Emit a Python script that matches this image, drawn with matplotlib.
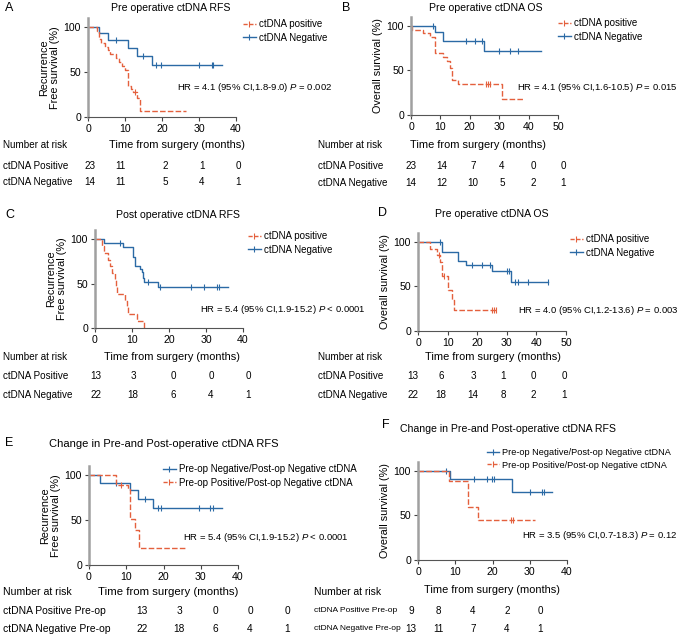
import numpy as np
import matplotlib
matplotlib.use("Agg")
from matplotlib import pyplot as plt
from matplotlib.lines import Line2D

plt.rcParams['font.family'] = ['Liberation Sans', 'DejaVu Sans']
plt.rcParams['mathtext.fontset'] = 'custom'
plt.rcParams['mathtext.rm'] = 'Liberation Sans'
plt.rcParams['mathtext.it'] = 'Liberation Sans:italic'

W, H = 678, 636
BLUE = "#2b6aa5"
RED = "#e4603d"

# ---- Kaplan-Meier curves: event times, survival after event (%), end of follow-up, censor times
# A: Pre operative ctDNA RFS
a_pos_t = [0, 2.3, 3, 3.5, 4.5, 5.5, 6, 7.5, 8.3, 9.2, 10, 10.8, 11.5, 12.2, 13.3, 14.1]
a_pos_s = [100, 95.7, 87, 82.6, 78.3, 73.9, 69.6, 65.2, 60.9, 56.5, 52.2, 35, 31, 27.5, 21, 6.5]
a_pos_end = 26.4
a_pos_cens = [12.8]
a_neg_t = [0, 3, 5.5, 10.8, 13.3, 17.2]
a_neg_s = [100, 92.9, 85.7, 76.5, 68.3, 57.8]
a_neg_end = 36.1
a_neg_cens = [7.5, 14.9, 18.5, 19.6, 30, 33.4, 33.7]

# B: Pre operative ctDNA OS
b_pos_t = [0, 0.5, 4, 6.5, 8, 11, 12.3, 13.2, 13.8, 16, 31]
b_pos_s = [100, 95.7, 91.3, 87, 69.6, 65.2, 60.9, 52.2, 39.1, 34.8, 17.4]
b_pos_end = 38
b_pos_cens = [25.5, 26.2, 26.8]
b_neg_t = [0, 8.1, 11, 24.8]
b_neg_s = [100, 92.9, 83, 71.6]
b_neg_end = 44.3
b_neg_cens = [7.5, 18.7, 21.7, 24.3, 30, 33.6, 36.4]

# C: Post operative ctDNA RFS
c_pos_t = [0, 1.8, 2.3, 3.5, 4, 4.6, 5.4, 5.8, 6, 8.2, 8.6, 9, 11.3, 13.2]
c_pos_s = [100, 92.3, 84.6, 76.9, 69.2, 61.5, 53.8, 46.2, 38.5, 30.8, 23.1, 15.4, 7.7, 0]
c_pos_end = 13.2
c_pos_cens = []
c_neg_t = [0, 2.3, 7.7, 10.4, 10.8, 12.2, 12.6, 13, 13.2, 17]
c_neg_s = [100, 95.5, 91, 80, 69.8, 66, 63.4, 56, 51.5, 46]
c_neg_end = 35.9
c_neg_cens = [6.8, 14.4, 17.5, 26, 29.5, 32.9, 33.6]

# D: Pre operative ctDNA OS
d_pos_t = [0, 3.9, 6.4, 7.4, 8.2, 10.3, 11.4, 12]
d_pos_s = [100, 92.3, 84.6, 76.9, 61.5, 46.2, 34.6, 23.1]
d_pos_end = 26.7
d_pos_cens = [7.1, 8.8, 25, 25.8, 26.5]
d_neg_t = [0, 8.1, 13.4, 16.1, 24.9, 31.3]
d_neg_s = [100, 88.8, 78.7, 73.9, 67.2, 54.5]
d_neg_end = 44
d_neg_cens = [7.5, 18.2, 21.6, 24.4, 30, 30.9, 32.8, 33.9, 37.3, 44]

# E: Change in Pre- and Post-operative ctDNA RFS
e_pos_t = [0, 7.3, 10.5, 11, 12.4, 13.3]
e_pos_s = [100, 88.9, 85, 51, 38.5, 19.2]
e_pos_end = 26.4
e_pos_cens = [8.5]
e_neg_t = [0, 2.9, 10.9, 13.1, 17.2]
e_neg_s = [100, 91.5, 83.3, 73, 63]
e_neg_end = 35.8
e_neg_cens = [7.3, 14.9, 18.5, 19.3, 29.5, 32.6, 33.3]

# F: Change in Pre- and Post-operative ctDNA (OS)
f_pos_t = [0, 8.4, 13.5, 16.2]
f_pos_s = [100, 88.9, 59.7, 44.8]
f_pos_end = 31.3
f_pos_cens = [25, 25.6]
f_neg_t = [0, 8.6, 25.2]
f_neg_s = [100, 90.7, 75.7]
f_neg_end = 36
f_neg_cens = [7.5, 14.9, 18.5, 19.8, 20.3, 30.2, 33.3, 33.8]

# ---- numbers at risk
a_risk_pos = [23, 11, 2, 1, 0]
a_risk_neg = [14, 11, 5, 4, 1]
b_risk_pos = [23, 14, 7, 4, 0, 0]
b_risk_neg = [14, 12, 10, 5, 2, 1]
c_risk_pos = [13, 3, 0, 0, 0]
c_risk_neg = [22, 18, 6, 4, 1]
d_risk_pos = [13, 6, 3, 1, 0, 0]
d_risk_neg = [22, 18, 14, 8, 2, 1]
e_risk_pos = [13, 3, 0, 0, 0]
e_risk_neg = [22, 18, 6, 4, 1]
f_risk_pos = [9, 8, 4, 2, 0]
f_risk_neg = [13, 11, 7, 4, 1]

fig = plt.figure(figsize=(W / 100, H / 100), dpi=100)


def ftext(x, y, s, **kw):
    kw.setdefault('va', 'center')
    fig.text(x / W, 1 - y / H, s, **kw)


def surv_at(t, s, x):
    idx = np.searchsorted(t, x, side='right') - 1
    return np.array(s)[idx]


def km(ax, t, s, end, cens, color, dashed):
    tt = list(t) + [end]
    ss = list(s) + [s[-1]]
    if dashed:
        ax.step(tt, ss, where='post', color=color, lw=1, ls=(0, (4, 1.6)))
    else:
        ax.step(tt, ss, where='post', color=color, lw=1)
    if len(cens):
        ax.plot(cens, surv_at(t, s, np.array(cens)), ls='none', marker='|',
                ms=4, mew=0.8, color=color)


def make_ax(x0, x1, y100, y0, xmax, step, ylabel):
    top = y0 - (y0 - y100) * 1.1
    ax = fig.add_axes([x0 / W, 1 - y0 / H, (x1 - x0) / W, (y0 - top) / H])
    ax.set_xlim(0, xmax)
    ax.set_ylim(0, 110)
    ax.set_xticks(np.arange(0, xmax + 1, step))
    ax.set_yticks([0, 50, 100])
    for sp in ['top', 'right']:
        ax.spines[sp].set_visible(False)
    ax.spines['left'].set_color('#a0a0a0')
    ax.spines['left'].set_linewidth(1.8)
    ax.spines['bottom'].set_color('#555555')
    ax.spines['bottom'].set_linewidth(0.8)
    ax.tick_params(length=3, width=0.8, color='#444444', labelsize=7.6, pad=2)
    ax.set_ylabel(ylabel, fontsize=7.8, labelpad=3, linespacing=1.1)
    return ax


def legend(ax, x, y, handles, labels, size=7):
    ax.legend(handles, labels, loc='center left', frameon=False,
              bbox_to_anchor=(x / W, 1 - y / H), bbox_transform=fig.transFigure,
              fontsize=size, handlelength=1.3, handletextpad=0.35, labelspacing=0.35,
              borderaxespad=0, borderpad=0)


def risk(xlab, ylab, labels, rows, cols, yrows, fs=7.1, fs_lab=None, fs_head=None):
    ftext(xlab, ylab, 'Number at risk', fontsize=fs_head or fs)
    for lab, row, yr in zip(labels, rows, yrows):
        ftext(xlab, yr, lab, fontsize=fs_lab or fs)
        for v, c in zip(row, cols):
            ftext(c, yr, str(v), fontsize=fs, ha='center')


h_pos = Line2D([], [], color=RED, lw=1, ls=(0, (3, 1.2)), marker='|', ms=4, mew=0.8)
h_neg = Line2D([], [], color=BLUE, lw=1, marker='|', ms=4, mew=0.8)
rfs = 'Recurrence\nFree survival (%)'
os_ = 'Overall survival (%)'
xl = 'Time from surgery (months)'
pn = ['ctDNA positive', 'ctDNA Negative']
change = ['Pre-op Negative/Post-op Negative ctDNA', 'Pre-op Positive/Post-op Negative ctDNA']

# A
ax = make_ax(88, 236, 27, 117, 40, 10, rfs)
km(ax, a_neg_t, a_neg_s, a_neg_end, a_neg_cens, BLUE, False)
km(ax, a_pos_t, a_pos_s, a_pos_end, a_pos_cens, RED, True)
legend(ax, 243, 31, [h_pos, h_neg], pn)
ftext(5, 8, 'A', fontsize=9)
ftext(171, 8, 'Pre operative ctDNA RFS', fontsize=7.6, ha='center')
ftext(177, 88, r'HR = 4.1 (95% CI,1.8-9.0) $P$ = 0.002', fontsize=6.8)
ftext(177, 145, xl, fontsize=7.9, ha='center')
risk(3, 145, ['ctDNA Positive', 'ctDNA Negative'], [a_risk_pos, a_risk_neg],
     [90, 120, 165, 202, 238], [166, 182])

# B
ax = make_ax(411, 558, 25.7, 115, 50, 10, os_)
km(ax, b_neg_t, b_neg_s, b_neg_end, b_neg_cens, BLUE, False)
km(ax, b_pos_t, b_pos_s, b_pos_end, b_pos_cens, RED, True)
legend(ax, 558, 30, [h_pos, h_neg], pn)
ftext(342, 8, 'B', fontsize=9)
ftext(486, 8, 'Pre operative ctDNA OS', fontsize=7.6, ha='center')
ftext(517, 88, r'HR = 4.1 (95% CI,1.6-10.5) $P$ = 0.015', fontsize=6.8)
ftext(478, 145, xl, fontsize=7.9, ha='center')
risk(318, 145, ['ctDNA Positive', 'ctDNA Negative'], [b_risk_pos, b_risk_neg],
     [411, 442, 473, 502, 533, 563], [166, 183])

# C
ax = make_ax(95, 243, 239, 328, 40, 10, rfs)
km(ax, c_neg_t, c_neg_s, c_neg_end, c_neg_cens, BLUE, False)
km(ax, c_pos_t, c_pos_s, c_pos_end, c_pos_cens, RED, True)
legend(ax, 248, 243, [h_pos, h_neg], pn)
ftext(5, 215, 'C', fontsize=9)
ftext(178, 215, 'Post operative ctDNA RFS', fontsize=7.6, ha='center')
ftext(200, 310, r'HR = 5.4 (95% CI,1.9-15.2) $P$ < 0.0001', fontsize=6.8)
ftext(172, 357, xl, fontsize=7.9, ha='center')
risk(3, 357, ['ctDNA Positive', 'ctDNA Negative'], [c_risk_pos, c_risk_neg],
     [96, 133, 173, 211, 248], [376, 395])

# D
ax = make_ax(418, 566, 241.7, 331, 50, 10, os_)
km(ax, d_neg_t, d_neg_s, d_neg_end, d_neg_cens, BLUE, False)
km(ax, d_pos_t, d_pos_s, d_pos_end, d_pos_cens, RED, True)
legend(ax, 570, 246, [h_pos, h_neg], pn)
ftext(378, 213, 'D', fontsize=9)
ftext(492, 214, 'Pre operative ctDNA OS', fontsize=7.6, ha='center')
ftext(518, 311, r'HR = 4.0 (95% CI,1.2-13.6) $P$ = 0.003', fontsize=6.8)
ftext(493, 357, xl, fontsize=7.9, ha='center')
risk(318, 357, ['ctDNA Positive', 'ctDNA Negative'], [d_risk_pos, d_risk_neg],
     [413, 441, 473, 503, 533, 564], [376, 395])

# E
ax = make_ax(89, 238, 475, 565, 40, 10, rfs)
km(ax, e_neg_t, e_neg_s, e_neg_end, e_neg_cens, BLUE, False)
km(ax, e_pos_t, e_pos_s, e_pos_end, e_pos_cens, RED, True)
legend(ax, 163, 476, [h_neg, h_pos], change)
ftext(5, 443, 'E', fontsize=9)
ftext(164, 444, 'Change in Pre-and Post-operative ctDNA RFS', fontsize=8, ha='center')
ftext(183, 537, r'HR = 5.4 (95% CI,1.9-15.2) $P$ < 0.0001', fontsize=6.8)
ftext(168, 592, xl, fontsize=8.2, ha='center')
risk(3, 592, ['ctDNA Positive Pre-op', 'ctDNA Negative Pre-op'], [e_risk_pos, e_risk_neg],
     [142, 179, 215, 250, 287], [611, 629], fs=7.3, fs_lab=7.5, fs_head=7.6)

# F
ax = make_ax(418, 567, 470.7, 560, 40, 10, os_)
km(ax, f_neg_t, f_neg_s, f_neg_end, f_neg_cens, BLUE, False)
km(ax, f_pos_t, f_pos_s, f_pos_end, f_pos_cens, RED, True)
legend(ax, 487, 459, [h_neg, h_pos], change, size=6.6)
ftext(382, 425, 'F', fontsize=9)
ftext(508, 429, 'Change in Pre-and Post-operative ctDNA RFS', fontsize=7.6, ha='center')
ftext(522, 535, r'HR = 3.5 (95% CI,0.7-18.3) $P$ = 0.12', fontsize=6.8)
ftext(492, 590, xl, fontsize=7.9, ha='center')
risk(314, 592, ['ctDNA Positive Pre-op', 'ctDNA Negative Pre-op'], [f_risk_pos, f_risk_neg],
     [411, 438, 473, 507, 540], [611, 629], fs=7.1, fs_lab=6.0, fs_head=7.4)

fig.savefig('out.png', dpi=100)
